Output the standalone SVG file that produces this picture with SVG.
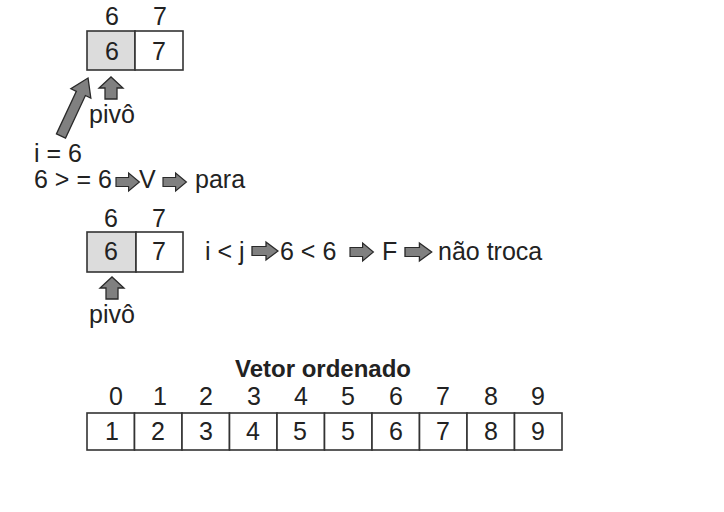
<svg xmlns="http://www.w3.org/2000/svg" width="724" height="512" viewBox="0 0 724 512">
<style>
text{font-family:"Liberation Sans",Arial,sans-serif;font-size:25px;fill:#222}
.c{text-anchor:middle}
.b{font-weight:bold;font-size:24px}
.cell{fill:#fff;stroke:#333;stroke-width:1.6}
.piv{fill:#dcdcdc;stroke:#333;stroke-width:1.6}
.arr{fill:#808080;stroke:#2a2a2a;stroke-width:1.3;stroke-linejoin:miter}
</style>
<defs>
<path id="ra" class="arr" d="M0,-5 H14 V-10 L26,0 L14,10 V5 H0 Z"/>
<path id="ua" class="arr" d="M-6,0 V-11 H-12 L0,-22 L12,-11 H6 V0 Z"/>
</defs>
<rect width="724" height="512" fill="#fff"/>

<g id="arr-top">
<text class="c" x="112" y="25">6</text>
<text class="c" x="160" y="25">7</text>
<rect class="piv" x="87" y="31" width="48" height="39"/>
<rect class="cell" x="135" y="31" width="48" height="39"/>
<text class="c" x="112" y="60">6</text>
<text class="c" x="159" y="60">7</text>
</g>
<g id="pivot-top">
<use href="#ua" x="111" y="99"/>
<text x="89" y="123">pivô</text>
</g>
<g id="diag-arrow">
<path class="arr" d="M0,-5 H47 V-11 L64,0 L47,11 V5 H0 Z" transform="translate(61,136) rotate(-65)"/>
</g>
<g id="line1">
<text x="34" y="162">i = 6</text>
</g>
<g id="line2">
<text x="34" y="188">6 &gt; = 6</text>
<use href="#ra" transform="translate(116,182) scale(0.9)"/>
<text x="139" y="188">V</text>
<use href="#ra" transform="translate(163,182) scale(0.9)"/>
<text x="195" y="188">para</text>
</g>

<g id="arr-mid">
<text class="c" x="111" y="227">6</text>
<text class="c" x="159" y="227">7</text>
<rect class="piv" x="87" y="232" width="49" height="40"/>
<rect class="cell" x="136" y="232" width="47" height="40"/>
<text class="c" x="111" y="260">6</text>
<text class="c" x="159" y="260">7</text>
</g>
<g id="pivot-mid">
<use href="#ua" x="112" y="299"/>
<text x="89" y="323">pivô</text>
</g>
<g id="line3">
<text x="205" y="260">i &lt; j</text>
<use href="#ra" transform="translate(252,251) scale(1,0.9)"/>
<text x="280" y="260">6 &lt; 6</text>
<use href="#ra" transform="translate(350,252) scale(0.9)"/>
<text x="382" y="260">F</text>
<use href="#ra" transform="translate(405,252) scale(1.03,0.9)"/>
<text x="438" y="260">não troca</text>
</g>

<g id="sorted">
<text class="c b" x="323" y="377">Vetor ordenado</text>
<g>
<rect class="cell" x="87" y="413" width="47.5" height="37"/>
<rect class="cell" x="134.5" y="413" width="47.5" height="37"/>
<rect class="cell" x="182" y="413" width="47.5" height="37"/>
<rect class="cell" x="229.5" y="413" width="47.5" height="37"/>
<rect class="cell" x="277" y="413" width="47.5" height="37"/>
<rect class="cell" x="324.5" y="413" width="47.5" height="37"/>
<rect class="cell" x="372" y="413" width="47.5" height="37"/>
<rect class="cell" x="419.5" y="413" width="47.5" height="37"/>
<rect class="cell" x="467" y="413" width="47.5" height="37"/>
<rect class="cell" x="514.5" y="413" width="47.5" height="37"/>
</g>
<g>
<text class="c" x="116" y="405">0</text>
<text class="c" x="160" y="405">1</text>
<text class="c" x="206" y="405">2</text>
<text class="c" x="254" y="405">3</text>
<text class="c" x="301" y="405">4</text>
<text class="c" x="348" y="405">5</text>
<text class="c" x="396" y="405">6</text>
<text class="c" x="443" y="405">7</text>
<text class="c" x="491" y="405">8</text>
<text class="c" x="538" y="405">9</text>
</g>
<g>
<text class="c" x="112" y="440">1</text>
<text class="c" x="158" y="440">2</text>
<text class="c" x="206" y="440">3</text>
<text class="c" x="253" y="440">4</text>
<text class="c" x="300" y="440">5</text>
<text class="c" x="348" y="440">5</text>
<text class="c" x="396" y="440">6</text>
<text class="c" x="443" y="440">7</text>
<text class="c" x="491" y="440">8</text>
<text class="c" x="538" y="440">9</text>
</g>
</g>
</svg>
